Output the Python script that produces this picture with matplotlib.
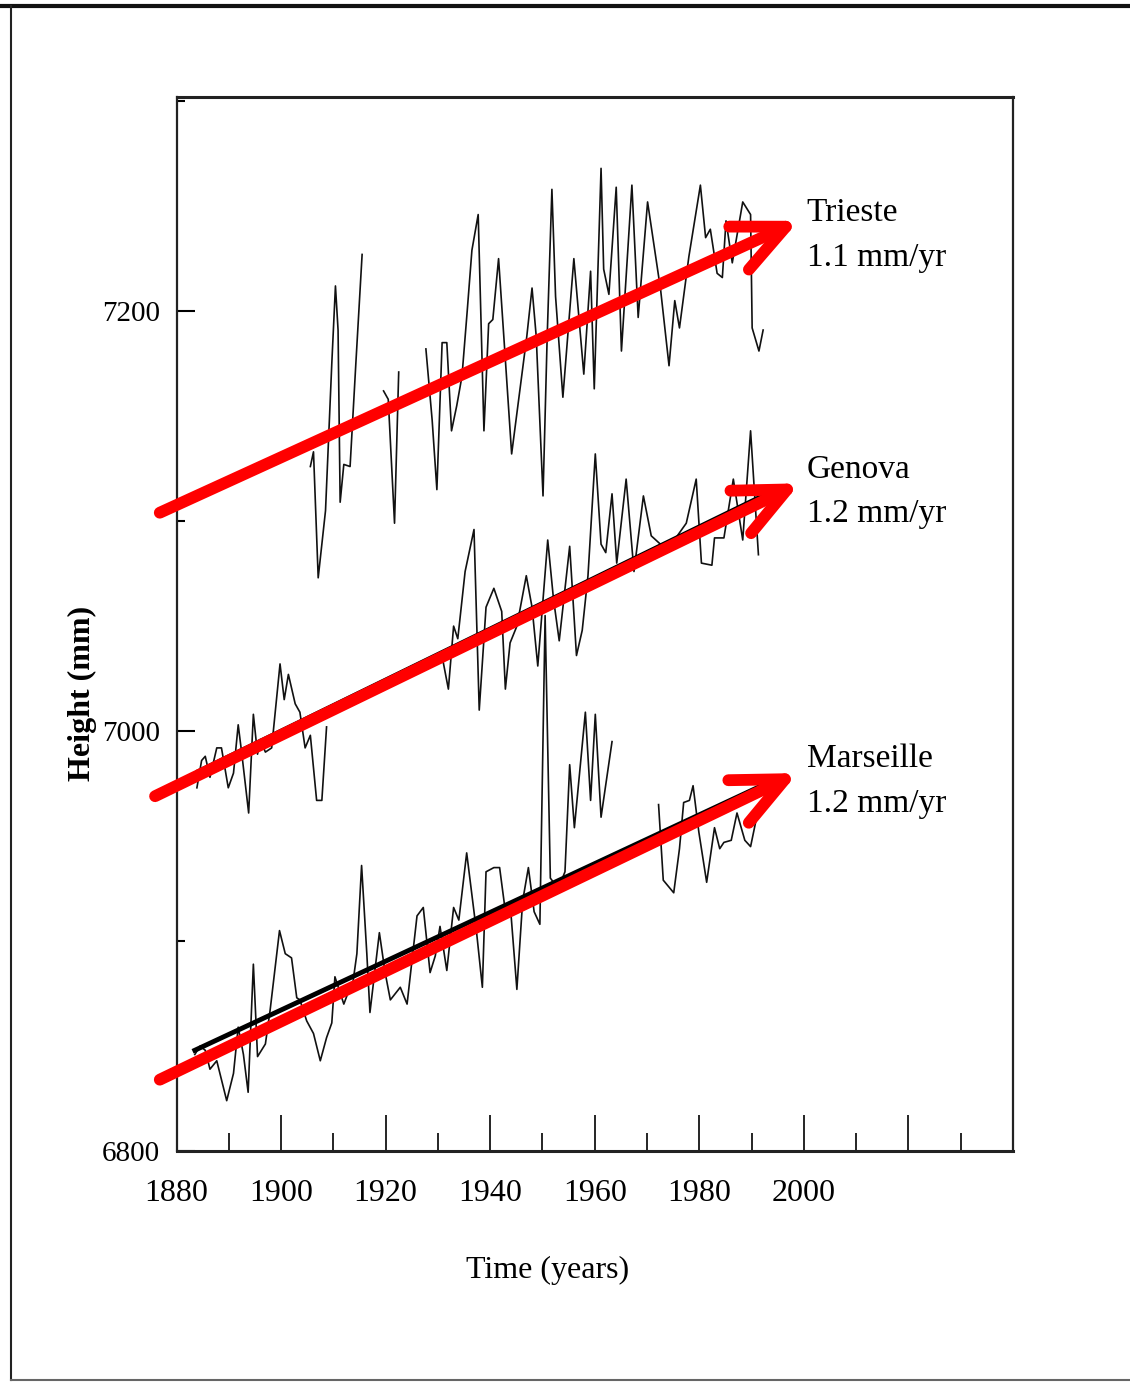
import numpy as np
import matplotlib
matplotlib.use("Agg")
import matplotlib.pyplot as plt
from matplotlib.lines import Line2D
from matplotlib.ticker import MultipleLocator

plt.rcParams['font.family'] = ['Liberation Serif', 'DejaVu Serif']

# -----------------------------
# Tide gauge records
# -----------------------------
nan = np.nan

trieste_years = [1905.6, 1906.2, 1907.1, 1908.5, 1909.7, 1910.4, 1910.9, 1911.3, 1912.0, 1913.2,
                 1914.3, 1915.5, nan,
                 1919.6, 1920.5, 1921.7, 1922.5, nan,
                 1927.7, 1928.9, 1929.8, 1930.8, 1931.7, 1932.6, 1933.6, 1934.6, 1935.6, 1936.5,
                 1937.7, 1938.8, 1939.7, 1940.5, 1941.6, 1942.6, 1944.1, 1945.5, 1947.0, 1948.0,
                 1948.8, 1950.1, 1950.9, 1951.8, 1952.5, 1953.9, 1956.0, 1957.9, 1959.2, 1959.9,
                 1961.2, 1961.7, 1962.7, 1964.1, 1965.1, 1967.1, 1968.3, 1970.1, 1972.6, 1974.2,
                 1975.3, 1976.2, 1978.0, 1980.2, 1981.2, 1982.1, 1983.4, 1984.4, 1985.1, 1986.3,
                 1988.3, 1989.8, 1990.1, 1991.4, 1992.2]
trieste_height = [7126, 7133, 7073, 7105, 7175, 7212, 7191, 7109, 7127, 7126,
                  7175, 7227, nan,
                  7162, 7158, 7099, 7171, nan,
                  7182, 7148, 7115, 7185, 7185, 7143, 7155, 7169, 7200, 7229,
                  7246, 7143, 7194, 7196, 7225, 7188, 7132, 7159, 7188, 7211,
                  7188, 7112, 7188, 7258, 7207, 7159, 7225, 7170, 7219, 7163,
                  7268, 7220, 7208, 7259, 7181, 7260, 7197, 7252, 7210, 7174,
                  7205, 7192, 7226, 7260, 7235, 7239, 7218, 7216, 7243, 7223,
                  7252, 7246, 7192, 7181, 7191]

genova_years = [1883.9, 1884.8, 1885.5, 1886.4, 1887.7, 1888.6, 1889.9, 1890.9, 1891.8, 1892.5,
                1893.8, 1894.7, 1895.5, 1896.0, 1897.0, 1898.2, 1899.8, 1900.6, 1901.4, 1902.7,
                1903.6, 1904.6, 1905.6, 1906.8, 1907.8, 1908.7, nan,
                1931.0, 1932.0, 1933.0, 1933.8, 1935.2, 1936.9, 1937.9, 1939.2, 1940.7, 1942.2,
                1942.9, 1943.8, 1945.1, 1946.9, 1948.0, 1949.1, 1951.0, 1952.1, 1953.2, 1955.2,
                1956.5, 1957.6, 1958.7, 1960.1, 1961.2, 1962.1, 1963.3, 1964.2, 1966.0, 1967.5,
                1969.3, 1970.8, 1973.0, 1975.5, 1977.5, 1979.4, 1980.4, 1982.4, 1982.9, 1984.7,
                1986.5, 1988.3, 1989.8, 1991.3]
genova_height = [6973, 6986, 6988, 6978, 6992, 6992, 6973, 6980, 7003, 6989,
                 6961, 7008, 6989, 6996, 6990, 6992, 7032, 7015, 7027, 7013,
                 7009, 6992, 6998, 6967, 6967, 7002, nan,
                 7033, 7020, 7050, 7044, 7076, 7096, 7010, 7059, 7068, 7057,
                 7020, 7042, 7050, 7074, 7059, 7031, 7091, 7063, 7043, 7088,
                 7036, 7048, 7074, 7132, 7089, 7085, 7113, 7080, 7120, 7076,
                 7112, 7093, 7088, 7092, 7099, 7120, 7080, 7079, 7092, 7092,
                 7120, 7091, 7143, 7084]

marseille_years = [1883.5, 1884.5, 1885.5, 1886.4, 1887.7, 1889.6, 1890.9, 1891.8, 1892.8, 1893.7,
                   1894.7, 1895.5, 1897.0, 1897.9, 1899.7, 1900.8, 1902.0, 1903.0, 1903.6, 1904.9,
                   1906.2, 1907.5, 1908.7, 1909.7, 1910.3, 1912.0, 1912.9, 1913.5, 1914.5, 1915.4,
                   1916.4, 1917.0, 1918.8, 1919.9, 1920.9, 1922.8, 1924.1, 1926.0, 1927.2, 1928.5,
                   1929.5, 1930.4, 1931.7, 1933.0, 1934.0, 1935.5, 1937.4, 1938.5, 1939.2, 1940.7,
                   1941.8, 1942.8, 1944.0, 1945.1, 1946.2, 1947.3, 1948.4, 1949.5, 1950.5, 1951.5,
                   1953.0, 1954.3, 1955.2, 1956.1, 1958.2, 1959.2, 1960.1, 1961.2, 1963.3, nan,
                   1972.2, 1973.1, 1975.1, 1976.2, 1977.0, 1978.1, 1978.8, 1979.9, 1981.4, 1982.9,
                   1983.9, 1984.7, 1986.1, 1987.2, 1988.7, 1989.8, 1991.3]
marseille_height = [6846, 6850, 6848, 6839, 6843, 6824, 6837, 6859, 6846, 6828,
                    6889, 6845, 6851, 6867, 6905, 6894, 6892, 6873, 6872, 6862,
                    6856, 6843, 6854, 6861, 6883, 6870, 6876, 6876, 6894, 6936,
                    6894, 6866, 6904, 6885, 6872, 6878, 6870, 6912, 6916, 6885,
                    6893, 6907, 6886, 6916, 6910, 6942, 6904, 6878, 6933, 6935,
                    6935, 6916, 6912, 6877, 6919, 6935, 6914, 6908, 7055, 6930,
                    6925, 6933, 6984, 6954, 7009, 6967, 7008, 6959, 6995, nan,
                    6965, 6929, 6923, 6944, 6966, 6967, 6974, 6952, 6928, 6954,
                    6944, 6947, 6948, 6961, 6948, 6945, 6963]

# original fitted trends (black) for Genova and Marseille
genova_fit_years = [1884.0, 1995.0]
genova_fit_height = [6981, 7116]
marseille_fit_years = [1883.5, 1994.5]
marseille_fit_height = [6848, 6977]

# red trend arrows drawn over the figure: (start year, start h) -> (end year, end h)
stations = ["Trieste", "Genova", "Marseille"]
rates = ["1.1 mm/yr", "1.2 mm/yr", "1.2 mm/yr"]
arrow_start = [(1876.8, 7104), (1875.9, 6969), (1876.8, 6834)]
arrow_end = [(1999.0, 7243), (1999.2, 7118), (1998.8, 6980)]
label_pos = [(2000.5, 7236), (2000.5, 7114), (2000.5, 6976)]

# -----------------------------
# Figure
# -----------------------------
fig = plt.figure(figsize=(11.3, 13.83), dpi=100)
ax = fig.add_axes([0.1562, 0.1677, 0.7403, 0.7622])

for yrs, hts in [(trieste_years, trieste_height), (genova_years, genova_height),
                 (marseille_years, marseille_height)]:
    ax.plot(yrs, hts, color='#111111', lw=1.2)

ax.plot(genova_fit_years, genova_fit_height, color='black', lw=2.2)
ax.plot(marseille_fit_years, marseille_fit_height, color='black', lw=3.5)

for s, e in zip(arrow_start, arrow_end):
    ax.annotate('', xy=e, xytext=s,
                arrowprops=dict(arrowstyle='->,head_length=37,head_width=17',
                                mutation_scale=1, color='#ff0000', lw=8.5,
                                shrinkA=0, shrinkB=0,
                                capstyle='round', joinstyle='round'))

for name, rate, (lx, ly) in zip(stations, rates, label_pos):
    ax.text(lx, ly, name + "\n" + rate, ha='left', va='center',
            fontsize=24, linespacing=1.6)

ax.set_xlim(1880, 2040)
ax.set_ylim(6800, 7302)

ax.set_xticks(np.arange(1880, 2041, 20))
ax.set_xticklabels([str(y) if y <= 2000 else '' for y in range(1880, 2041, 20)])
ax.xaxis.set_minor_locator(MultipleLocator(10))
ax.set_yticks([6800, 7000, 7200])
ax.yaxis.set_minor_locator(MultipleLocator(100))

ax.tick_params(axis='x', which='major', direction='in', length=26, width=1.2,
               pad=20, labelsize=23)
ax.tick_params(axis='x', which='minor', direction='in', length=13, width=1.2)
ax.tick_params(axis='y', which='major', direction='in', length=13, width=1.5,
               pad=12, labelsize=21)
ax.tick_params(axis='y', which='minor', direction='in', length=6, width=1.5)

for sp in ax.spines.values():
    sp.set_linewidth(1.6)
    sp.set_color('#222222')
ax.spines['top'].set_linewidth(2.2)
ax.spines['bottom'].set_linewidth(2.2)

ax.set_xlabel("Time (years)", fontsize=23)
ax.xaxis.set_label_coords(0.444, -0.113)
ax.xaxis.label.set_va('center')
ax.set_ylabel("Height (mm)", fontsize=23, fontweight='bold')
ax.yaxis.set_label_coords(-0.112, 0.4345)
ax.yaxis.label.set_va('center')

# page frame of the scan
fig.add_artist(Line2D([0, 1], [0.9957, 0.9957], transform=fig.transFigure,
                      color='#111111', lw=3))
fig.add_artist(Line2D([0.0097, 0.0097], [0.002, 0.9957], transform=fig.transFigure,
                      color='#222222', lw=1.5))
fig.add_artist(Line2D([0.0097, 1], [0.0025, 0.0025], transform=fig.transFigure,
                      color='#666666', lw=1.5))

fig.savefig("out.png", dpi=100)
